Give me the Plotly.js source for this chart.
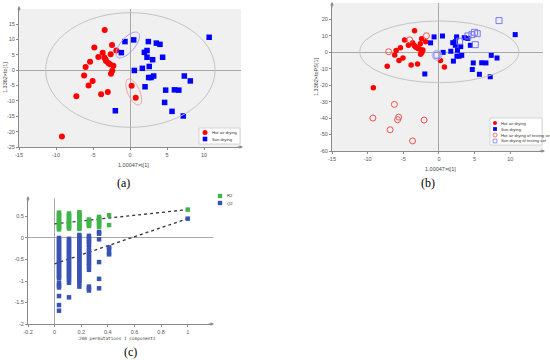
<!DOCTYPE html>
<html><head><meta charset="utf-8">
<script src="https://cdn.plot.ly/plotly-3.0.1.min.js"></script>
<style>html,body{margin:0;padding:0;background:#fff}#chart{width:550px;height:360px}</style>
</head><body><div id="chart"></div>
<script>
// ---- Panel (a)/(b): training set scores ----
const hotX = [-3.42,-4.82,-2.43,-1.85,-3.69,-4.28,-2.61,-3.47,-5.4,-6.0,-3.24,-2.93,-2.25,-2.39,-2.57,-6.2,-5.05,-5.6,-3.0,-3.9,-7.25,-9.2,0.22,0.77,-3.3,-2.7];
const hotY = [13.1,7.36,8.2,6.4,5.7,4.3,5.2,4.1,2.7,1.0,3.0,2.3,1.4,-0.2,-1.2,-1.7,-3.5,-5.0,-7.1,-7.8,-8.5,-21.6,-5.1,-9.0,3.5,1.9];
const sunX = [-0.68,0.5,-1.17,2.48,3.56,4.05,1.94,2.3,2.3,3.06,4.41,2.6,1.67,0.59,2.52,3.2,7.34,8.15,2.03,4.82,6.0,6.6,4.68,5.68,7.2,-1.98,10.7,2.84];
const sunY = [9.3,9.85,5.7,9.3,8.8,8.4,5.8,6.4,4.2,3.4,4.2,1.2,0.6,-0.1,-2.4,-1.9,-1.9,-3.5,-5.4,-6.5,-6.4,-6.5,-10.5,-13.4,-14.9,-13.2,10.7,-2.4];
// ---- Panel (b): testing set ----
const testHotX = [-1.75,-7.05,-4.1,-6.25,-9.26,-5.65,-5.8,-2.08,-6.85,-3.7];
const testHotY = [10.0,0.3,7.5,-31.7,-40.0,-39.4,-41.0,-41.2,-47.1,-53.9];
const testSunX = [8.43,5.0,5.37,4.63,4.07,5.1,2.9,-0.28];
const testSunY = [19.2,12.1,11.3,10.7,9.9,4.6,6.7,-1.8];
// ---- Panel (c): permutation test ----
const permX = [0.033,0.108,0.186,0.258,0.334,0.409,1.0];
const r2Cols = [
  [0.59,0.55,0.51,0.47,0.43,0.39,0.35,0.31,0.27,0.23,0.20],
  [0.57,0.53,0.49,0.45,0.41,0.37,0.33,0.29,0.25,0.22],
  [0.60,0.56,0.52,0.48,0.44,0.40,0.36,0.32,0.28,0.24,0.21],
  [0.43,0.40,0.37,0.34,0.31,0.28],
  [0.49,0.46,0.42,0.38,0.34,0.30,0.26],
  [0.53,0.30],
  [0.66]
];
const q2Cols = [
  [0.00,-0.05,-0.10,-0.15,-0.20,-0.25,-0.30,-0.35,-0.40,-0.45,-0.50,-0.55,-0.60,-0.65,-0.70,-0.75,-0.80,-0.85,-0.90,-0.94,-1.05,-1.10,-1.15,-1.35,-1.56,-1.69],
  [-0.02,-0.07,-0.12,-0.17,-0.22,-0.27,-0.32,-0.37,-0.42,-0.47,-0.52,-0.57,-0.62,-0.67,-0.72,-0.77,-0.82,-0.87,-0.92,-0.97,-1.04,-1.38],
  [0.07,0.02,-0.03,-0.08,-0.13,-0.18,-0.23,-0.28,-0.33,-0.38,-0.43,-0.48,-0.53,-0.58,-0.63,-0.68,-0.73,-0.78,-0.83,-0.88,-0.93,-0.98,-1.04,-1.13],
  [0.05,0.00,-0.05,-0.10,-0.15,-0.22,-0.30,-0.36,-0.42,-0.48,-0.54,-0.60,-0.66,-0.74,-1.13,-1.17,-1.22],
  [0.14,0.10,-0.03,-0.56,-0.95,-1.17],
  [-0.22,-0.25,-0.35,-0.38],
  [0.45]
];
const r2LineX = [0,1], r2LineY = [0.33,0.66];
const q2LineX = [0,1], q2LineY = [-0.6,0.45];

const W=550,H=360;
const px = x=>x/W, py = y=>1-y/H;
function flat(cols){const xs=[],ys=[];cols.forEach((c,i)=>c.forEach(v=>{xs.push(permX[i]);ys.push(v);}));return {x:xs,y:ys};}
const r2=flat(r2Cols), q2=flat(q2Cols);

const RED='#ff0000', BLUE='#0000ff', GREEN='#3fb54a', QBLUE='#3a52b4', ORED='#f05050', OBLUE='#7878f0';
const traces = [
  {x:hotX,y:hotY,xaxis:'x',yaxis:'y',mode:'markers',type:'scatter',marker:{color:RED,size:6,symbol:'circle'}},
  {x:sunX,y:sunY,xaxis:'x',yaxis:'y',mode:'markers',type:'scatter',marker:{color:BLUE,size:5.5,symbol:'square'}},
  {x:hotX,y:hotY,xaxis:'x2',yaxis:'y2',mode:'markers',type:'scatter',marker:{color:RED,size:5.5,symbol:'circle'}},
  {x:sunX,y:sunY,xaxis:'x2',yaxis:'y2',mode:'markers',type:'scatter',marker:{color:BLUE,size:5,symbol:'square'}},
  {x:testHotX,y:testHotY,xaxis:'x2',yaxis:'y2',mode:'markers',type:'scatter',marker:{color:ORED,size:6,symbol:'circle-open',line:{color:ORED,width:1}}},
  {x:testSunX,y:testSunY,xaxis:'x2',yaxis:'y2',mode:'markers',type:'scatter',marker:{color:OBLUE,size:6,symbol:'square-open',line:{color:OBLUE,width:1}}},
  {x:r2LineX,y:r2LineY,xaxis:'x3',yaxis:'y3',mode:'lines',type:'scatter',line:{color:'#333',width:1.3,dash:'dot'}},
  {x:q2LineX,y:q2LineY,xaxis:'x3',yaxis:'y3',mode:'lines',type:'scatter',line:{color:'#333',width:1.3,dash:'dot'}},
  {x:r2.x,y:r2.y,xaxis:'x3',yaxis:'y3',mode:'markers',type:'scatter',marker:{color:GREEN,size:4.5,symbol:'square'}},
  {x:q2.x,y:q2.y,xaxis:'x3',yaxis:'y3',mode:'markers',type:'scatter',marker:{color:QBLUE,size:4.5,symbol:'square'}}
];
traces.forEach(t=>t.showlegend=false);

const tickFont={family:'Liberation Sans, Arial, sans-serif',size:5.5,color:'#555'};
function ax(domain,range,vals,extra){
  return Object.assign({domain:domain,range:range,tickvals:vals,ticktext:vals.map(v=>String(v)),
    showgrid:false,zeroline:true,zerolinecolor:'#a8a8a8',zerolinewidth:1,showline:true,linecolor:'#8a8a8a',linewidth:1,
    ticks:'outside',ticklen:2,tickcolor:'#8a8a8a',tickfont:tickFont,fixedrange:true},extra||{});
}

// rotated small ellipses in panel (a), given in pixel sizes
function ellipsePath(cx,cy,a,b,angDeg,pxPerX,pxPerY){
  const t=angDeg*Math.PI/180; let d='';
  for(let i=0;i<=48;i++){const s=i/48*2*Math.PI;
    const ex=a*Math.cos(s)*Math.cos(t)-b*Math.sin(s)*Math.sin(t);
    const ey=a*Math.cos(s)*Math.sin(t)+b*Math.sin(s)*Math.cos(t);
    d+=(i?'L':'M')+(cx+ex/pxPerX).toFixed(3)+','+(cy+ey/pxPerY).toFixed(3);}
  return d+'Z';
}
const aPX=222/30, aPY=138/45;

// legend marker shapes (paper coords, pixel based)
function lgCircle(cx,cy,r,color,open){return {type:'circle',xref:'paper',yref:'paper',x0:px(cx-r),x1:px(cx+r),y0:py(cy+r),y1:py(cy-r),
  fillcolor:open?'rgba(0,0,0,0)':color,line:{color:color,width:open?0.8:0}};}
function lgSquare(cx,cy,r,color,open){return {type:'rect',xref:'paper',yref:'paper',x0:px(cx-r),x1:px(cx+r),y0:py(cy+r),y1:py(cy-r),
  fillcolor:open?'rgba(0,0,0,0)':color,line:{color:color,width:open?0.8:0}};}

const shapes=[
  {type:'rect',xref:'x domain',yref:'y domain',x0:0,x1:1,y0:0,y1:1,fillcolor:'#f0f0f0',line:{width:0},layer:'below'},
  {type:'rect',xref:'x2 domain',yref:'y2 domain',x0:0,x1:1,y0:0,y1:1,fillcolor:'#f0f0f0',line:{width:0},layer:'below'},
  {type:'circle',xref:'x',yref:'y',x0:-11.4,x1:11.5,y0:-18.6,y1:18.7,line:{color:'#c4c4c4',width:1}},
  {type:'circle',xref:'x2',yref:'y2',x0:-11.1,x1:11.2,y0:-18.5,y1:19.0,line:{color:'#c4c4c4',width:1}},
  {type:'path',xref:'x',yref:'y',path:ellipsePath(-0.3,8.2,16,7,49,aPX,aPY),line:{color:'#a0a0f0',width:1}},
  {type:'path',xref:'x',yref:'y',path:ellipsePath(0.5,-7.1,14,6,-66,aPX,aPY),line:{color:'#f0a0a0',width:1}},
  {type:'circle',xref:'x2',yref:'y2',x0:-0.95,x1:0.4,y0:-4.8,y1:1.2,line:{color:'#b0b0f0',width:1}},
  // legend boxes
  {type:'rect',xref:'paper',yref:'paper',x0:px(199),x1:px(240),y0:py(144),y1:py(128),fillcolor:'#fff',line:{color:'#ccc',width:0.8}},
  {type:'rect',xref:'paper',yref:'paper',x0:px(490),x1:px(542),y0:py(145),y1:py(118),fillcolor:'#fff',line:{color:'#ccc',width:0.8}},
  lgCircle(205,132.5,2.5,RED,false), lgSquare(205,139,2.3,BLUE,false),
  lgCircle(495,123,2,RED,false), lgSquare(495,129,1.9,BLUE,false),
  lgCircle(495,135,2,ORED,true), lgSquare(495,141,1.9,OBLUE,true),
  lgSquare(220,196,2.2,GREEN,false), lgSquare(220,203,2.2,QBLUE,false)
];

const sm={family:'Liberation Sans, Arial, sans-serif',size:4.2,color:'#333'};
function txt(x,y,text,font,extra){return Object.assign({xref:'paper',yref:'paper',x:px(x),y:py(y),text:text,showarrow:false,font:font,xanchor:'center',yanchor:'middle'},extra||{});}
function arrow(x,y,dx,dy){return {xref:'paper',yref:'paper',x:px(x),y:py(y),ax:dx,ay:dy,text:'',showarrow:true,arrowhead:2,arrowsize:0.7,arrowwidth:1,arrowcolor:'#8a8a8a'};}
const serif={family:'Liberation Serif, Times New Roman, serif',size:12,color:'#000'};
const axT={family:'Liberation Sans, Arial, sans-serif',size:5.5,color:'#444'};
const annotations=[
  txt(123,183,'(a)',serif), txt(428,183,'(b)',serif), txt(130,352,'(c)',serif),
  txt(133,165,'1.00047×t[1]',axT), txt(5,78,'1.3362×to[1]',axT,{textangle:-90}),
  txt(440,169,'1.00047×t[1]',axT), txt(316,77,'1.3362×toPS[1]',axT,{textangle:-90}),
  txt(117,338,'200 permutations 1 components',{family:'DejaVu Sans Mono, monospace',size:4.4,color:'#444'}),
  // legend texts
  txt(210,132.5,'Hot air drying',sm,{xanchor:'left'}), txt(210,139,'Sun drying',sm,{xanchor:'left'}),
  txt(499,123,'Hot air drying',sm,{xanchor:'left'}), txt(499,129,'Sun drying',sm,{xanchor:'left'}),
  txt(499,135,'Hot air drying of testing set',sm,{xanchor:'left'}), txt(499,141,'Sun drying of testing set',sm,{xanchor:'left'}),
  txt(225,196,'R2',sm,{xanchor:'left'}), txt(225,203,'Q2',sm,{xanchor:'left'}),
  // axis arrows
  arrow(19,6,0,7), arrow(243,147,-7,0),
  arrow(332,2,0,7), arrow(545,151,-7,0),
  arrow(28,196,0,7), arrow(214,324,-7,0)
];

const layout={
  width:550,height:360,margin:{l:0,r:0,t:0,b:0},paper_bgcolor:'#fff',plot_bgcolor:'#fff',showlegend:false,
  xaxis:ax([px(19),px(241)],[-15,15],[-15,-10,-5,0,5,10],{anchor:'y'}),
  yaxis:ax([py(147),py(9)],[-25,19.9],[-25,-20,-15,-10,-5,0,5,10,15],{anchor:'x'}),
  xaxis2:ax([px(332),px(543)],[-15,14.6],[-15,-10,-5,0,5,10],{anchor:'y2'}),
  yaxis2:ax([py(151),py(3)],[-60,29.9],[-60,-50,-40,-30,-20,-10,0,10,20],{anchor:'x2'}),
  xaxis3:ax([px(28),px(213)],[-0.2,1.19],[-0.2,0,0.2,0.4,0.6,0.8,1],{anchor:'y3'}),
  yaxis3:ax([py(324),py(198)],[-2,0.93],[-2,-1.5,-1,-0.5,0,0.5],{anchor:'x3'}),
  shapes:shapes,annotations:annotations
};
Plotly.newPlot('chart',traces,layout,{staticPlot:true,displayModeBar:false});
</script></body></html>
